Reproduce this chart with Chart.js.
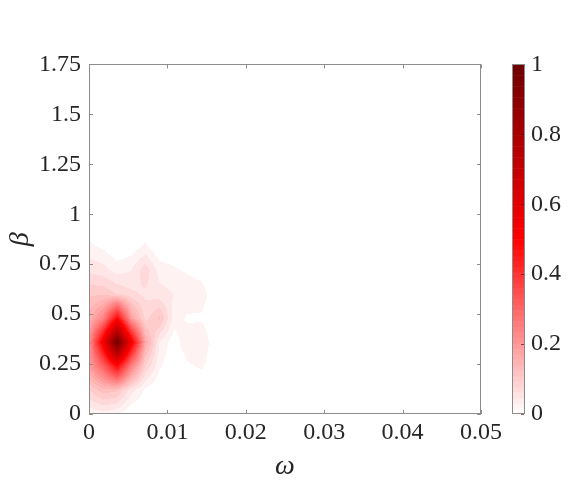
<!DOCTYPE html>
<html>
<head>
<meta charset="utf-8">
<script src="https://cdn.jsdelivr.net/npm/chart.js@4.4.1/dist/chart.umd.min.js"></script>
<style>
	html, body { margin: 0; padding: 0; background: #fff; }
	#wrap { width: 586px; height: 484px; }
</style>
</head>
<body>
<div id="wrap"><canvas id="densityChart" width="586" height="484"></canvas></div>
<script>
// grid nodes of the density surface
const omegaGrid = [0, 0.0018, 0.0036, 0.0054, 0.0072, 0.009, 0.0108, 0.0126, 0.0144, 0.0162];
const betaGrid = [0, 0.12, 0.24, 0.36, 0.48, 0.6, 0.72, 0.84, 0.96, 1.08, 1.2];

// normalised density, one row per beta value (bottom row first)
const density = [
	[0.03, 0.04, 0.03, 0.00, 0.00, 0.00, 0.00, 0.00, 0.00, 0],
	[0.10, 0.14, 0.13, 0.06, 0.02, 0.00, 0.00, 0.00, 0.00, 0],
	[0.20, 0.32, 0.50, 0.26, 0.10, 0.03, 0.00, 0.02, 0.03, 0],
	[0.22, 0.55, 1.00, 0.55, 0.18, 0.05, 0.01, 0.045, 0.05, 0],
	[0.16, 0.25, 0.50, 0.20, 0.09, 0.13, 0.04, 0.02, 0.02, 0],
	[0.12, 0.12, 0.10, 0.08, 0.07, 0.06, 0.05, 0.05, 0.04, 0],
	[0.07, 0.06, 0.04, 0.05, 0.09, 0.04, 0.03, 0.02, 0.01, 0],
	[0.03, 0.02, 0.00, 0.01, 0.03, 0.00, 0.00, 0.00, 0.00, 0],
	[0.01, 0.00, 0.00, 0.00, 0.00, 0.00, 0.00, 0.00, 0.00, 0],
	[0.02, 0.00, 0.00, 0.00, 0.00, 0.00, 0.00, 0.00, 0.00, 0],
	[0.00, 0.00, 0.00, 0.00, 0.00, 0.00, 0.00, 0.00, 0.00, 0]
];

const omegaTicks = [0, 0.01, 0.02, 0.03, 0.04, 0.05];
const omegaTickLabels = ['0', '0.01', '0.02', '0.03', '0.04', '0.05'];
const betaTicks = [0, 0.25, 0.5, 0.75, 1, 1.25, 1.5, 1.75];
const betaTickLabels = ['0', '0.25', '0.5', '0.75', '1', '1.25', '1.5', '1.75'];
const colorTicks = [0, 0.2, 0.4, 0.6, 0.8, 1];
const colorTickLabels = ['0', '0.2', '0.4', '0.6', '0.8', '1'];

const levelStep = 0.025;
const serif = "'Liberation Serif', 'Times New Roman', serif";
const boxColor = '#8c8c8c';

// white -> red -> dark red
function redMap(t) {
	t = Math.max(0, Math.min(1, t));
	if (t <= 0.5) {
		const k = t / 0.5;
		return [255, Math.round(255 * (1 - k)), Math.round(255 * (1 - k))];
	}
	const k = (t - 0.5) / 0.5;
	return [Math.round(255 - 145 * k), 0, 0];
}

function findCell(arr, v) {
	for (let i = 0; i < arr.length - 1; i++) {
		if (v >= arr[i] && v <= arr[i + 1]) return i;
	}
	return -1;
}

function sampleDensity(w, b) {
	const i = findCell(omegaGrid, w);
	const j = findCell(betaGrid, b);
	if (i < 0 || j < 0) return 0;
	const tx = (w - omegaGrid[i]) / (omegaGrid[i + 1] - omegaGrid[i]);
	const ty = (b - betaGrid[j]) / (betaGrid[j + 1] - betaGrid[j]);
	const v00 = density[j][i], v10 = density[j][i + 1];
	const v01 = density[j + 1][i], v11 = density[j + 1][i + 1];
	return (v00 * (1 - tx) + v10 * tx) * (1 - ty) + (v01 * (1 - tx) + v11 * tx) * ty;
}

const gridNodes = [];
betaGrid.forEach((b, j) => {
	omegaGrid.forEach((w, i) => gridNodes.push({ x: w, y: b, v: density[j][i] }));
});

const densityLayer = {
	id: 'densityLayer',
	beforeDatasetsDraw(chart) {
		const { ctx, chartArea: a, scales: { x, y } } = chart;
		const left = Math.round(a.left), top = Math.round(a.top);
		const w = Math.round(a.right) - left, h = Math.round(a.bottom) - top;
		const img = ctx.createImageData(w, h);
		for (let j = 0; j < h; j++) {
			const beta = y.getValueForPixel(top + j + 0.5);
			for (let i = 0; i < w; i++) {
				const omega = x.getValueForPixel(left + i + 0.5);
				const v = sampleDensity(omega, beta);
				const lvl = Math.floor(v / levelStep + 1e-9) * levelStep;
				const c = lvl > 0 ? redMap(lvl) : [255, 255, 255];
				const p = (j * w + i) * 4;
				img.data[p] = c[0];
				img.data[p + 1] = c[1];
				img.data[p + 2] = c[2];
				img.data[p + 3] = 255;
			}
		}
		ctx.putImageData(img, left, top);
	},
	afterDraw(chart) {
		const { ctx, chartArea: a, scales: { x, y, cb } } = chart;
		ctx.save();
		ctx.strokeStyle = boxColor;
		ctx.lineWidth = 1;

		// inward ticks on all four sides
		ctx.beginPath();
		omegaTicks.forEach(v => {
			const px = Math.round(x.getPixelForValue(v)) + 0.5;
			ctx.moveTo(px, a.bottom); ctx.lineTo(px, a.bottom - 4);
			ctx.moveTo(px, a.top); ctx.lineTo(px, a.top + 4);
		});
		betaTicks.forEach(v => {
			const py = Math.round(y.getPixelForValue(v)) + 0.5;
			ctx.moveTo(a.left, py); ctx.lineTo(a.left + 4, py);
			ctx.moveTo(a.right, py); ctx.lineTo(a.right - 4, py);
		});
		ctx.stroke();
		ctx.strokeRect(Math.round(a.left) + 0.5, Math.round(a.top) + 0.5,
			Math.round(a.right - a.left) - 1, Math.round(a.bottom - a.top) - 1);

		// colour bar
		const cbLeft = a.right + 31, cbWidth = 12;
		const bands = 64;
		for (let k = 0; k < bands; k++) {
			const v0 = k / bands, v1 = (k + 1) / bands;
			const c = redMap((k + 0.5) / bands);
			const y0 = cb.getPixelForValue(v0), y1 = cb.getPixelForValue(v1);
			ctx.fillStyle = `rgb(${c[0]},${c[1]},${c[2]})`;
			ctx.fillRect(cbLeft, y1, cbWidth, y0 - y1 + 0.5);
		}
		ctx.beginPath();
		colorTicks.forEach(v => {
			const py = Math.round(cb.getPixelForValue(v)) + 0.5;
			ctx.moveTo(cbLeft + cbWidth, py); ctx.lineTo(cbLeft + cbWidth - 3, py);
		});
		ctx.strokeStyle = 'rgba(60,0,0,0.6)';
		ctx.stroke();
		ctx.strokeStyle = boxColor;
		ctx.strokeRect(Math.round(cbLeft) + 0.5, Math.round(cb.top) + 0.5, cbWidth, Math.round(cb.bottom - cb.top) - 1);
		ctx.restore();
	}
};

const tickFont = { family: serif, size: 24 };

new Chart(document.getElementById('densityChart'), {
	type: 'scatter',
	data: {
		datasets: [{
			label: 'density',
			data: gridNodes,
			pointRadius: 0,
			pointHoverRadius: 0
		}]
	},
	options: {
		responsive: false,
		animation: false,
		events: [],
		layout: { padding: { top: 33, left: 0, right: 0, bottom: 0 } },
		plugins: { legend: { display: false }, tooltip: { enabled: false } },
		scales: {
			x: {
				type: 'linear',
				min: 0,
				max: 0.05,
				grid: { display: false, drawTicks: false },
				border: { display: false },
				afterBuildTicks: s => { s.ticks = omegaTicks.map(v => ({ value: v })); },
				afterFit: s => { s.height = 70; },
				ticks: {
					padding: 4,
					color: '#262626',
					font: tickFont,
					maxRotation: 0,
					callback: (v, i) => omegaTickLabels[i]
				},
				title: {
					display: true,
					text: 'ω',
					color: '#262626',
					font: { family: serif, size: 28, style: 'italic' },
					padding: { top: 0, bottom: 1 }
				}
			},
			y: {
				type: 'linear',
				position: 'left',
				min: 0,
				max: 1.75,
				grid: { display: false, drawTicks: false },
				border: { display: false },
				afterBuildTicks: s => { s.ticks = betaTicks.map(v => ({ value: v })); },
				afterFit: s => { s.width = 89; },
				ticks: {
					padding: 8,
					color: '#262626',
					font: tickFont,
					callback: (v, i) => betaTickLabels[i]
				},
				title: {
					display: true,
					text: 'β',
					color: '#262626',
					font: { family: serif, size: 28, style: 'italic' },
					padding: { top: 4, bottom: 0 }
				}
			},
			cb: {
				type: 'linear',
				position: 'right',
				min: 0,
				max: 1,
				grid: { display: false, drawTicks: false },
				border: { display: false },
				afterBuildTicks: s => { s.ticks = colorTicks.map(v => ({ value: v })); },
				afterFit: s => { s.width = 105; },
				ticks: {
					padding: 50,
					color: '#262626',
					font: tickFont,
					callback: (v, i) => colorTickLabels[i]
				}
			}
		}
	},
	plugins: [densityLayer]
});
</script>
</body>
</html>
